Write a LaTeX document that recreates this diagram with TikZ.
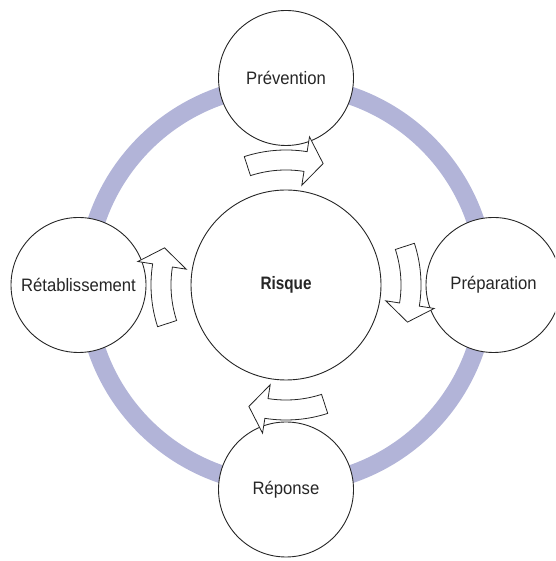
\documentclass[tikz,border=0pt]{standalone}
\usepackage{fontspec}
\setmainfont{Liberation Sans}[FakeStretch=0.925, BoldFeatures={FakeStretch=0.85}]
\definecolor{ringc}{RGB}{178,180,216}
\definecolor{inkc}{RGB}{38,38,38}
\newcommand\cycarrow[1]{%
  \draw[cyclearrow, shift={(286,276)}, rotate=#1]
    (108:115) arc[start angle=108, end angle=81, radius=115]
    -- (81:101) -- (73:127) -- (81:150) -- (81:135)
    arc[start angle=81, end angle=108, radius=135] -- cycle;}
\begin{document}
\begin{tikzpicture}[x=1pt, y=1pt,
  bubble/.style={circle, draw=inkc, line width=0.9pt, fill=white,
    minimum size=135pt, inner sep=0pt, text=inkc,
    font=\fontsize{18}{20}\selectfont},
  cyclearrow/.style={draw=inkc, line width=0.8pt, fill=white, line join=miter},
  ringstyle/.style={draw=ringc, line width=18pt}]
\useasboundingbox (0,0) rectangle (555,561);
\clip (0,0) rectangle (555,561);
\coordinate (C) at (286,276);
\draw[ringstyle] (C) circle[radius=200];
\node[bubble] (prev) at (286,483) {Prévention};
\node[bubble] (prep) at (493.5,276) {Préparation};
\node[bubble] (rep) at (286,71.5) {Réponse};
\node[bubble] (ret) at (78.5,276) {Rétablissement};
\node[bubble, minimum size=190pt] (risque) at (C) {\textbf{Risque}};
\cycarrow{0}
\cycarrow{-90}
\cycarrow{180}
\cycarrow{90}
\end{tikzpicture}
\end{document}
